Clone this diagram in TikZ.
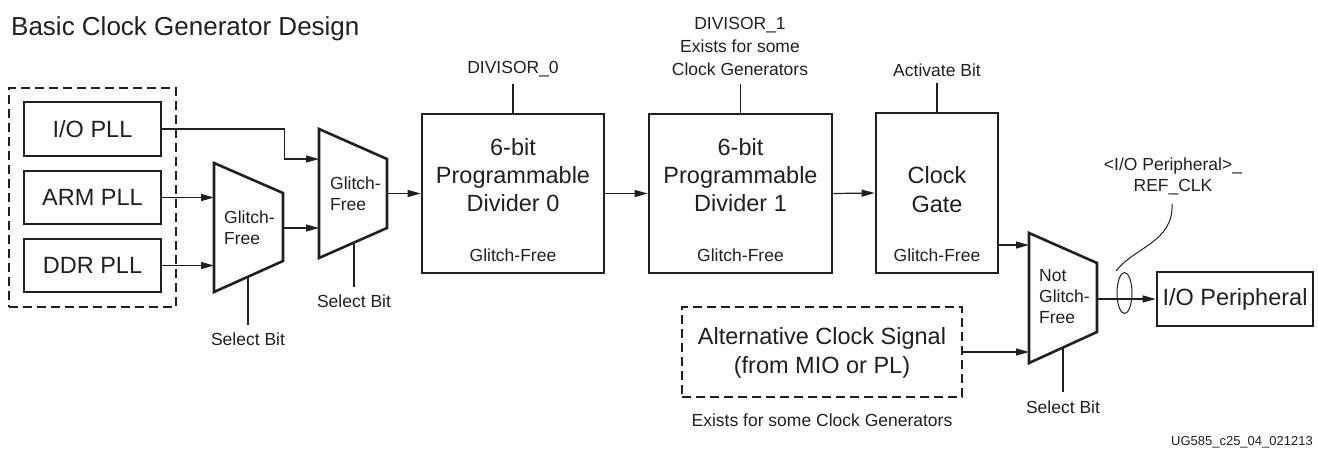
\documentclass[tikz,border=0pt]{standalone}
\usepackage{fontspec}
\setmainfont{Liberation Sans}
\usetikzlibrary{arrows.meta}
\definecolor{ink}{HTML}{231F20}
\begin{document}
\begin{tikzpicture}[x=1pt,y=-1pt,
  every node/.style={text=ink, inner sep=0pt},
  big/.style={font=\fontsize{23.5}{28}\selectfont, align=center},
  small/.style={font=\fontsize{17.5}{22}\selectfont, align=center},
  muxtxt/.style={font=\fontsize{17.5}{21}\selectfont, align=left, anchor=west},
  box/.style={draw=ink, line width=2.6pt, rectangle},
  dbox/.style={draw=ink, line width=1.1pt, dash pattern=on 9pt off 5pt, rectangle},
  mux/.style={draw=ink, line width=2.6pt, line join=miter},
  thin/.style={draw=ink, line width=1.2pt},
  arr/.style={thin, -{Triangle[length=13pt,width=7pt]}}]
\useasboundingbox (0,0) rectangle (1318,450);

% title
\node[font=\fontsize{26}{30}\selectfont, anchor=base west] (title) at (11,35) {Basic Clock Generator Design};

% PLL group
\node[dbox, minimum width=167pt, minimum height=219pt] (grp) at (92.5,197.5) {};
\node[box, big, minimum width=137pt, minimum height=54pt] (iopll) at (92.5,129) {I/O PLL};
\node[box, big, minimum width=137pt, minimum height=53pt] (armpll) at (92.5,197.5) {ARM PLL};
\node[box, big, minimum width=137pt, minimum height=53pt] (ddrpll) at (92.5,265.5) {DDR PLL};

% mux 1
\draw[mux] (214,163) -- (283,193) -- (283,261) -- (214,292) -- cycle;
\coordinate (m1in1) at (214,197.5);
\coordinate (m1in2) at (214,265.5);
\coordinate (m1out) at (283,228);
\coordinate (m1sel) at (248,276.7);
\coordinate (m1selb) at (248,325);
\node[muxtxt] (m1t) at (224,227.5) {Glitch-\\Free};
\node[small] (sel1) at (248,339) {Select Bit};

% mux 2
\draw[mux] (319,129) -- (387,159) -- (387,228) -- (319,258) -- cycle;
\coordinate (m2in1) at (319,159);
\coordinate (m2in2) at (319,228);
\coordinate (m2out) at (387,193.5);
\coordinate (m2sel) at (354,242.6);
\coordinate (m2selb) at (354,287);
\node[muxtxt] (m2t) at (330,194) {Glitch-\\Free};
\node[small] (sel2) at (354,301) {Select Bit};

% dividers
\node[box, minimum width=182pt, minimum height=159pt] (div0) at (513,193.5) {};
\node[big] (div0t) at (513,175) {6-bit\\Programmable\\Divider 0};
\node[small] (div0g) at (513,255) {Glitch-Free};
\node[small] (dv0) at (513,69) {DIVISOR\_0};

\node[box, minimum width=183pt, minimum height=159pt] (div1) at (740.5,193.5) {};
\node[big] (div1t) at (740.5,175) {6-bit\\Programmable\\Divider 1};
\node[small] (div1g) at (740.5,255) {Glitch-Free};
\node[font=\fontsize{17.5}{23}\selectfont, align=center] (dv1) at (740,46) {DIVISOR\_1\\Exists for some\\Clock Generators};

% clock gate
\node[box, minimum width=122pt, minimum height=160pt] (gate) at (937,193) {};
\node[big, font=\fontsize{23.5}{29}\selectfont] (gatet) at (937,189.5) {Clock\\Gate};
\node[small] (gateg) at (937,255) {Glitch-Free};
\node[small] (act) at (937,70) {Activate Bit};

% control lines from top
\draw[thin] (div0.north) -- (513,84);
\draw[thin] (div1.north) -- (740.5,84);
\draw[thin] (gate.north) -- (937,83);

% mux 3
\draw[mux] (1029,233) -- (1097,263) -- (1097,332) -- (1029,363) -- cycle;
\coordinate (m3in1) at (1029,245);
\coordinate (m3in2) at (1029,352);
\coordinate (m3out) at (1097,299);
\coordinate (m3sel) at (1063,347.5);
\coordinate (m3selb) at (1063,392);
\node[muxtxt] (m3t) at (1039,297) {Not\\Glitch-\\Free};
\node[small] (sel3) at (1063,407) {Select Bit};

% alternative clock
\node[dbox, minimum width=280pt, minimum height=90pt] (alt) at (822,352) {};
\node[big, font=\fontsize{23.5}{29}\selectfont] (altt) at (822,352.5) {Alternative Clock Signal\\(from MIO or PL)};
\node[small] (altn) at (822,420) {Exists for some Clock Generators};

% peripheral
\node[box, big, minimum width=156pt, minimum height=54pt] (iop) at (1235,299) {I/O Peripheral};
\node[font=\fontsize{17.5}{21}\selectfont, align=center] (refclk) at (1173,176.5) {<I/O Peripheral>\_\\REF\_CLK};

% connectors
\draw[arr] (iopll.east) -- ++(122,0) |- (m2in1);
\draw[arr] (armpll.east) -- (m1in1);
\draw[arr] (ddrpll.east) -- (m1in2);
\draw[arr] (m1out) -- (m2in2);
\draw[arr] (m2out) -- (div0.west);
\draw[arr] (div0.east) -- (div1.west);
\draw[arr] (div1.east) -- (gate.west);
\draw[arr] (m3in1 -| gate.east) -- (m3in1);
\draw[arr] (alt.east) -- (m3in2);
\draw[arr] (m3out) -- (iop.west);

% select lines
\draw[thin] (m1sel) -- (m1selb);
\draw[thin] (m2sel) -- (m2selb);
\draw[thin] (m3sel) -- (m3selb);

% REF_CLK lasso
\coordinate (lasso) at (1124.5,293);
\draw[thin, line width=1pt] (1172,204) .. controls (1174,242) and (1133,248) .. (1116,271);
\draw[thin, line width=1pt] (lasso) ellipse [x radius=7.5, y radius=20.5];

% footnote
\node[font=\fontsize{13}{15}\selectfont, anchor=east] (fn) at (1313,442) {UG585\_c25\_04\_021213};
\end{tikzpicture}
\end{document}
